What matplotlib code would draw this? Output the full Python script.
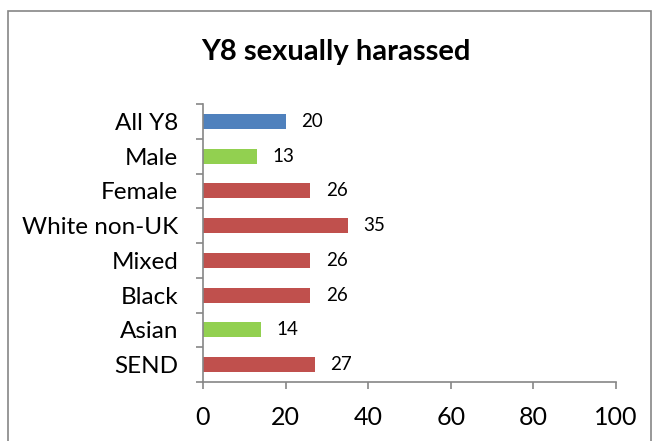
import matplotlib
matplotlib.use("Agg")
import matplotlib.pyplot as plt
from matplotlib.patches import Rectangle
import numpy as np

categories = ["All Y8", "Male", "Female", "White non-UK", "Mixed", "Black", "Asian", "SEND"]
values = [20, 13, 26, 35, 26, 26, 14, 27]
bar_colors = ["#4F81BD", "#92D050", "#C0504D", "#C0504D", "#C0504D", "#C0504D", "#92D050", "#C0504D"]
x_ticks = [0, 20, 40, 60, 80, 100]
title = "Y8 sexually harassed"

plt.rcParams['font.family'] = ['Lato', 'DejaVu Sans']

fig = plt.figure(figsize=(6.6, 4.41), dpi=100)
ax = fig.add_axes([203/660, 1-382/441, 413/660, 278/441])

n = len(categories)
y = np.arange(n)
ax.barh(y, values, height=0.43, color=bar_colors)
ax.set_ylim(n - 0.5, -0.5)
ax.set_xlim(0, 100)

for yi, v in zip(y, values):
    ax.annotate(str(v), (v, yi), xytext=(11, 0), textcoords="offset points",
                ha="left", va="center", fontsize=13.5, color="black")

ax.set_xticks(x_ticks)
ax.set_xticklabels([str(t) for t in x_ticks], fontsize=18)
ax.set_yticks(y)
ax.set_yticklabels(categories, fontsize=17.5)
ax.set_yticks(np.arange(-0.5, n + 0.5, 1), minor=True)
ax.tick_params(axis='y', which='major', length=0, pad=18)
ax.tick_params(axis='y', which='minor', length=5, color="#868686", width=1.2)
ax.tick_params(axis='x', which='major', length=5, color="#868686", width=1.2, pad=12)

for s in ["top", "right"]:
    ax.spines[s].set_visible(False)
for s in ["left", "bottom"]:
    ax.spines[s].set_color("#868686")
    ax.spines[s].set_linewidth(1.2)

fig.text(336/660, 1-52/441, title, ha="center", va="center", fontsize=21, fontweight="bold")

fig.patches.append(Rectangle((8/660, -0.05), 643/660, 1.05 - 11/441, transform=fig.transFigure,
                             fill=False, edgecolor="#868686", linewidth=1.2))

fig.savefig("out.png", dpi=100)
